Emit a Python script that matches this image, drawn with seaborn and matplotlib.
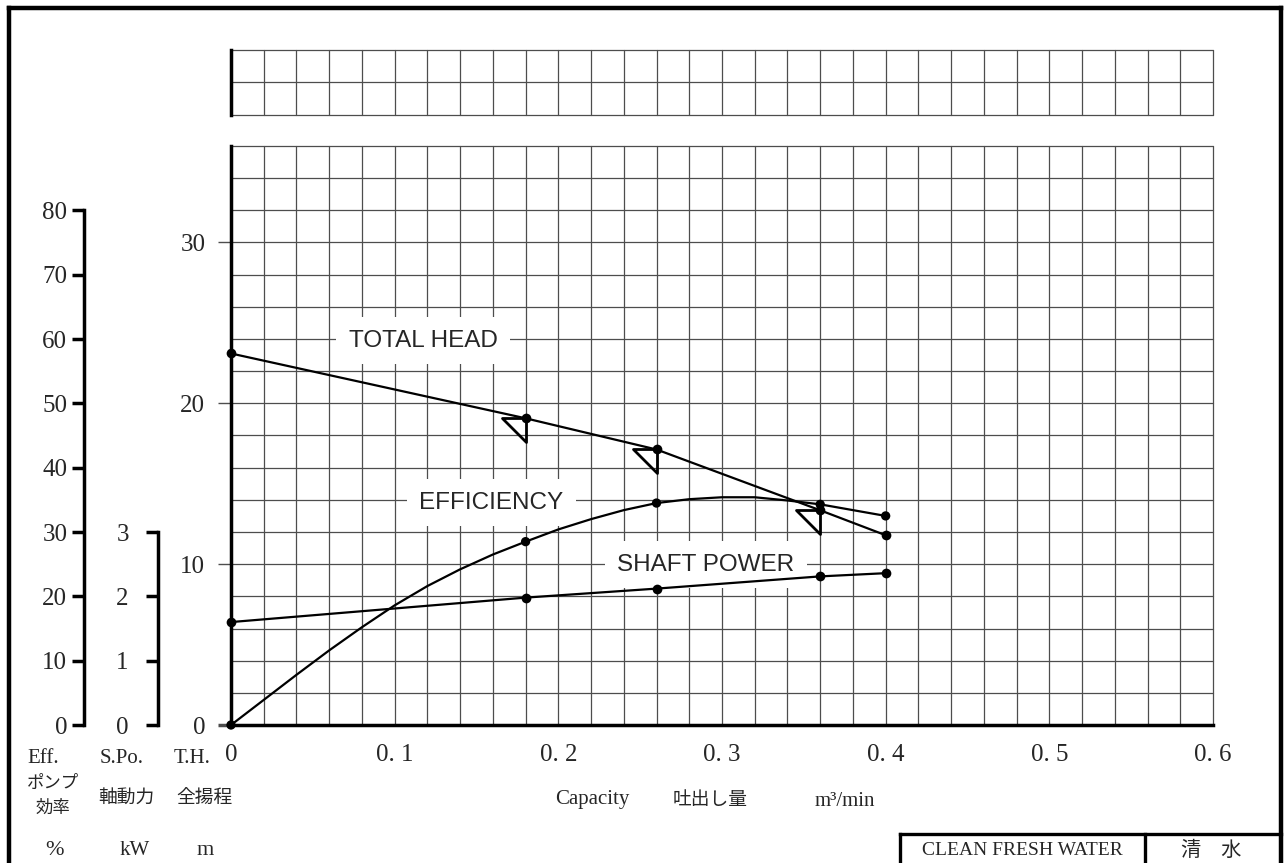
import numpy as np
import matplotlib
matplotlib.use("Agg")
import matplotlib.pyplot as plt
from matplotlib.path import Path
from matplotlib.lines import Line2D
import seaborn as sns

# ======================
# DATA
# ======================
capacity = [0.0, 0.18, 0.26, 0.36, 0.40]          # m3/min, measured points
total_head = [23.1, 19.07, 17.13, 13.35, 11.8]     # m
shaft_power = [1.60, 1.98, 2.12, 2.31, 2.36]       # kW
efficiency = [0.0, 28.5, 34.5, 34.3, 32.5]         # %

# efficiency curve as drawn between the points
eff_curve_q = [0.0, 0.02, 0.04, 0.06, 0.08, 0.10, 0.12, 0.14, 0.16, 0.18, 0.20,
               0.22, 0.24, 0.26, 0.28, 0.30, 0.32, 0.34, 0.36, 0.38, 0.40]
eff_curve = [0.0, 3.9, 7.8, 11.6, 15.2, 18.6, 21.6, 24.2, 26.5, 28.5, 30.4,
             32.0, 33.4, 34.5, 35.1, 35.4, 35.4, 34.9, 34.3, 33.4, 32.5]

# points marked with the open triangle on the head curve
check_q = [0.18, 0.26, 0.36]

x_ticks = [0.0, 0.1, 0.2, 0.3, 0.4, 0.5, 0.6]
x_labels = ["0", "0. 1", "0. 2", "0. 3", "0. 4", "0. 5", "0. 6"]
th_ticks = [0, 10, 20, 30]
eff_ticks = [0, 10, 20, 30, 40, 50, 60, 70, 80]
spo_ticks = [0, 1, 2, 3]

# ======================
# STYLE
# ======================
sns.set_style("white")
plt.rcParams['font.family'] = ['Liberation Serif', 'Noto Sans CJK JP']
JP = ['Noto Sans CJK JP', 'DejaVu Sans']
GRID = '#4d4d4d'
TICK_FS = 18
W, H = 1288, 863


def fbox(l, t, r, b):
    return [l / W, 1 - b / H, (r - l) / W, (b - t) / H]


def ftxt(x, y, s, **kw):
    fig.text(x / W, 1 - y / H, s, ha='center', va='center', **kw)


fig = plt.figure(figsize=(W / 100, H / 100), dpi=100)

# ======================
# MAIN GRID (total head axis)
# ======================
ax = fig.add_axes(fbox(231, 146, 1213, 725))
ax.set_xlim(0, 0.6)
ax.set_ylim(0, 36)
ax.set_xticks(x_ticks)
ax.set_xticklabels(x_labels)
ax.set_xticks(np.arange(0, 0.61, 0.02), minor=True)
ax.set_yticks(th_ticks)
ax.set_yticks(np.arange(0, 37, 2), minor=True)
ax.grid(which='both', color=GRID, lw=0.9, clip_on=False)
ax.tick_params(which='minor', length=0)
ax.tick_params(axis='x', which='major', length=8.5, width=1, color=GRID,
               labelsize=TICK_FS, pad=5)
ax.tick_params(axis='y', which='major', length=9.5, width=1, color=GRID,
               labelsize=TICK_FS, pad=9)
for s in ['top', 'right']:
    ax.spines[s].set_visible(False)
for s in ['left', 'bottom']:
    ax.spines[s].set_linewidth(2.5)
    ax.spines[s].set_color('black')
    ax.spines[s].set_zorder(5)
ax.xaxis.get_major_ticks()[0].tick1line.set(color='black', markeredgewidth=2.5)
ax.yaxis.get_major_ticks()[0].tick1line.set(color='black', markeredgewidth=2.5)

# head curve
sns.lineplot(x=capacity, y=total_head, ax=ax, color='black', lw=1.6,
             marker='o', markersize=7, markeredgewidth=0, sort=False,
             estimator=None, zorder=6, clip_on=False)
tri = Path([(-1, 0), (0, 0), (0, -1), (-1, 0)],
           [Path.MOVETO, Path.LINETO, Path.LINETO, Path.CLOSEPOLY])
check_head = [total_head[capacity.index(q)] for q in check_q]
ax.plot(check_q, check_head, ls='none', marker=tri, markersize=34,
        markerfacecolor='none', markeredgecolor='black', markeredgewidth=2,
        zorder=6)

# curve labels
box = dict(facecolor='white', edgecolor='none', pad=9)
lab = dict(family='Liberation Sans', fontsize=17.5, ha='center', va='center',
           bbox=box, zorder=4)
ax.text(0.1173, 23.9, "TOTAL HEAD", **lab)
ax.text(0.1589, 13.83, "EFFICIENCY", **lab)
ax.text(0.2902, 9.97, "SHAFT POWER", **lab)
ax.set_xlabel('')
ax.set_ylabel('')

# ======================
# EFFICIENCY AXIS
# ======================
ax_eff = ax.twinx()
ax_eff.set_ylim(0, 90)
sns.lineplot(x=eff_curve_q, y=eff_curve, ax=ax_eff, color='black', lw=1.6,
             sort=False, estimator=None, clip_on=False)
sns.scatterplot(x=capacity, y=efficiency, ax=ax_eff, color='black', s=45,
                edgecolor='none', zorder=6, clip_on=False)
ax_eff.yaxis.tick_left()
for s in ['right', 'top', 'bottom']:
    ax_eff.spines[s].set_visible(False)
ax_eff.spines['left'].set_position(('axes', (84 - 231) / 982))
ax_eff.spines['left'].set_bounds(0, 80)
ax_eff.spines['left'].set_linewidth(2.5)
ax_eff.spines['left'].set_color('black')
ax_eff.set_yticks(eff_ticks)
ax_eff.tick_params(axis='y', length=9, width=2.5, color='black',
                   labelsize=TICK_FS, pad=3)
ax_eff.set_ylabel('')

# ======================
# SHAFT POWER AXIS
# ======================
ax_spo = ax.twinx()
ax_spo.set_ylim(0, 9)
sns.lineplot(x=capacity, y=shaft_power, ax=ax_spo, color='black', lw=1.6,
             marker='o', markersize=7, markeredgewidth=0, sort=False,
             estimator=None, clip_on=False)
ax_spo.yaxis.tick_left()
for s in ['right', 'top', 'bottom']:
    ax_spo.spines[s].set_visible(False)
ax_spo.spines['left'].set_position(('axes', (158 - 231) / 982))
ax_spo.spines['left'].set_bounds(0, 3)
ax_spo.spines['left'].set_linewidth(2.5)
ax_spo.spines['left'].set_color('black')
ax_spo.set_yticks(spo_ticks)
ax_spo.tick_params(axis='y', length=9, width=2.5, color='black',
                   labelsize=TICK_FS, pad=12)
ax_spo.set_ylabel('')

# ======================
# TOP STRIP
# ======================
ax_top = fig.add_axes(fbox(231, 50, 1213, 115))
ax_top.set_xlim(0, 0.6)
ax_top.set_ylim(0, 2)
ax_top.set_xticks(np.arange(0, 0.61, 0.02))
ax_top.tick_params(axis='x', length=0, labelbottom=False)
ax_top.set_yticks([0, 2])
ax_top.set_yticks([1], minor=True)
ax_top.tick_params(axis='y', which='major', length=9.5, width=1, color=GRID,
                   labelleft=False)
ax_top.tick_params(axis='y', which='minor', length=0)
ax_top.grid(which='both', color=GRID, lw=0.9, clip_on=False)
for s in ['top', 'right', 'bottom']:
    ax_top.spines[s].set_visible(False)
ax_top.spines['left'].set_linewidth(2.5)
ax_top.spines['left'].set_color('black')

# ======================
# AXIS CAPTIONS
# ======================
small = dict(fontsize=15)
ftxt(43, 758, "Eff.", **small)
ftxt(122, 758, "S.Po.", **small)
ftxt(192, 758, "T.H.", **small)
ftxt(53, 783, "ポンプ", family=JP, fontsize=12.5)
ftxt(53, 808, "効率", family=JP, fontsize=12.5)
ftxt(126, 797, "軸動力", family=JP, fontsize=13.5)
ftxt(204, 797, "全揚程", family=JP, fontsize=13.5)
ftxt(55, 850, "%", fontsize=16)
ftxt(135, 850, "kW", **small)
ftxt(205, 850, "m", fontsize=16)
ftxt(592, 799, "Capacity", **small)
ftxt(710, 799, "吐出し量", family=JP, fontsize=13.5)
ftxt(845, 801, "m³/min", **small)
ftxt(1022, 850, "CLEAN FRESH WATER", fontsize=14)
ftxt(1211, 850, "清　水", family=JP, fontsize=14.5)

# ======================
# SHEET FRAME
# ======================
def fline(xs, ys, lw):
    fig.add_artist(Line2D([x / W for x in xs], [1 - y / H for y in ys],
                          color='black', lw=lw, solid_capstyle='projecting'))


fline([9, 9], [8, 870], 3.2)
fline([9, 1281], [8, 8], 3.2)
fline([1281, 1281], [8, 870], 3.2)
fline([900, 1281], [834, 834], 2.4)
fline([900, 900], [834, 870], 2.4)
fline([1145, 1145], [834, 870], 2.4)

fig.savefig("out.png", dpi=100, facecolor='white')
